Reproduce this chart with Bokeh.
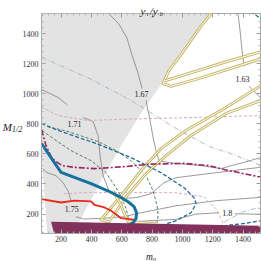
from bokeh.plotting import figure
from bokeh.models import Range1d, LinearAxis, SingleIntervalTicker, FixedTicker, Label
from bokeh.core.properties import value
from bokeh.embed import file_html
from bokeh.resources import INLINE

nan = float("nan")

X_RANGE = (71, 1515)
Y_RANGE = (71, 1533)
major_ticks = [200, 400, 600, 800, 1000, 1200, 1400]
minor_ticks = [t for t in range(80, 1520, 40) if t % 200 != 0]

# excluded (grey) region
grey_x = [71, 1200, 1044, 879, 727, 596, 464, 365, 312, 299, 108, 71]
grey_y = [1533, 1533, 1342, 1089, 869, 655, 422, 235, 135, 71, 71, 622]

# excluded band at the bottom
band_x = [134, 1515, 1515, 154]
band_y = [149, 122, 71, 71]

# thick blue curve
blue_x = [71, 200, 266, 398, 508, 582, 642, 681, 698, 694, 675, 642]
blue_y = [669, 477, 452, 402, 355, 318, 282, 249, 209, 169, 142, 125]

# red curve
red_x = [71, 200, 288, 398, 420, 486, 530, 596, 650, 694]
red_y = [300, 277, 289, 284, 262, 244, 222, 173, 167, 162]

# blue dashed curves
bdash1_x = [71, 200, 431, 662, 859, 1011, 1077, 1090, 1057, 958, 840, 780]
bdash1_y = [802, 749, 669, 575, 475, 375, 309, 269, 209, 156, 116, 89]
bdash2_x = [1230, 1294, 1420, 1515]
bdash2_y = [110, 125, 139, 156]
bdash3_x = [1450, 1530]
bdash3_y = [1545, 1490]

# magenta dash-dot curve
mdd_x = [71, 101, 141, 207, 286, 418, 615, 793, 1011, 1176, 1288, 1515]
mdd_y = [761, 655, 568, 522, 511, 502, 515, 532, 537, 522, 493, 446]

# light pink dashed curves
pink1_x = [71, 180, 378, 662, 1090, 1515]
pink1_y = [911, 855, 822, 832, 842, 855]
pink2_x = [220, 385, 662, 958, 1044, 1143, 1222, 1268]
pink2_y = [335, 344, 344, 342, 329, 315, 235, 142]

# green dashed curves
greenA_x = [108, 246, 444, 563, 662, 760, 807, 833, 840, 826]
greenA_y = [782, 749, 682, 622, 555, 455, 355, 255, 189, 100]
greenB_x = [75, 167, 266, 398, 497, 576, 622, 642, 635]
greenB_y = [755, 689, 622, 555, 475, 355, 255, 189, 100]

# light blue-grey dash-dot curves
bgdd1_x = [71, 398, 662, 958, 1176, 1321, 1515]
bgdd1_y = [1242, 1096, 955, 769, 649, 602, 525]
bgdd2_x = [1222, 1288, 1400, 1515]
bgdd2_y = [102, 155, 215, 246]

# y_tau / y_b contours (grey)
c163_x = [1365, 1380, 1393, 1407, nan, 1440, 1473, 1515]
c163_y = [1545, 1422, 1289, 1182, nan, 1049, 1015, 972]
c167_x = [503, 582, 635, 668, 708, 734, nan, 760, 787, 807, 826, 846, 912, 1011, 1123, 1255, 1321, 1400, 1515]
c167_y = [1545, 1462, 1369, 1255, 1135, 1035, nan, 955, 822, 708, 622, 555, 542, 532, 522, 502, 522, 542, 575]
c171_x = [71, 180, 240, nan, 345, 411, 444, 457, 477, 516, 582, 694, 793, 879, 958, 1222, 1515]
c171_y = [1028, 975, 928, nan, 842, 815, 722, 589, 455, 355, 302, 309, 335, 409, 442, 475, 511]
c175_x = [78, 108, 167, 213, 246, 266, nan, 299, 352, 464, 615, 727, 958, 1222, 1515]
c175_y = [502, 475, 455, 409, 355, 289, nan, 182, 167, 172, 182, 209, 255, 289, 311]
c18_x = [662, 958, 1090, 1242, nan, 1347, 1515]
c18_y = [149, 165, 200, 209, nan, 202, 199]

contour_label_text = ["1.63", "1.67", "1.71", "1.75", "1.8"]
contour_label_x = [1397, 731, 289, 271, 1295]
contour_label_y = [1099, 999, 799, 233, 208]

# khaki double-line curves
ktop_x = [1200, 1123, 1057, 978, 912, 873, 925, 1123, 1321, 1519]
ktop_y = [1545, 1449, 1355, 1242, 1155, 1068, 1049, 1105, 1169, 1232]
kup_x = [886, 1057, 1288, 1519]
kup_y = [1086, 1139, 1212, 1279]
k1_x = [1519, 1255, 1024, 859, 727, 596, 464, 516, 629, 760, 892, 1057, 1288, 1519]
k1_y = [1055, 889, 755, 635, 489, 322, 162, 149, 315, 469, 589, 722, 869, 955]
k2_x = [543, 596, 642, 727, 840]
k2_y = [355, 255, 150, 142, 137]

SERIF = "Liberation Serif"
FRAME = "#a8a8a8"

p = figure(width=261, height=261, x_range=Range1d(*X_RANGE), y_range=Range1d(*Y_RANGE),
           output_backend="svg", toolbar_location=None,
           min_border_left=40, min_border_right=1, min_border_top=13, min_border_bottom=28)
p.xgrid.visible = False
p.ygrid.visible = False
p.outline_line_color = FRAME
p.background_fill_color = "white"
p.border_fill_color = "white"

for ax in p.axis:
    ax.ticker = SingleIntervalTicker(interval=200, num_minor_ticks=5)
    ax.major_tick_in = 4
    ax.major_tick_out = 0
    ax.minor_tick_in = 2
    ax.minor_tick_out = 0
    ax.axis_line_color = FRAME
    ax.major_tick_line_color = "#9a9a9a"
    ax.minor_tick_line_color = "#b5b5b5"
    ax.major_label_text_font = SERIF
    ax.major_label_text_color = "#333333"
    ax.major_label_text_font_size = "8px"
    ax.major_label_standoff = 3
p.xaxis[0].major_label_standoff = 2

# mirrored tick marks on the top and right edges (label-free axes)
for place in ("above", "right"):
    for ticks, length, color in ((major_ticks, 4, "#9a9a9a"), (minor_ticks, 2, "#b5b5b5")):
        p.add_layout(LinearAxis(ticker=FixedTicker(ticks=[], minor_ticks=ticks),
                                minor_tick_in=length, minor_tick_out=0,
                                major_tick_in=0, major_tick_out=0,
                                minor_tick_line_color=color, axis_line_color=None,
                                major_label_standoff=0), place)

# regions
p.patch(grey_x, grey_y, fill_color="#e3e3e3", line_color=None)

# thin lines
for xs, ys in [(c163_x, c163_y), (c167_x, c167_y), (c171_x, c171_y), (c175_x, c175_y), (c18_x, c18_y)]:
    p.line(xs, ys, line_color="#808080", line_width=0.8)

p.line(bgdd1_x, bgdd1_y, line_color="#9fb4c2", line_width=0.9, line_dash="5 2 1 2")
p.line(bgdd2_x, bgdd2_y, line_color="#9fb4c2", line_width=0.9, line_dash="5 2 1 2")
p.line(pink1_x, pink1_y, line_color="#d6a3b8", line_width=0.9, line_dash="3 2")
p.line(pink2_x, pink2_y, line_color="#d6a3b8", line_width=0.9, line_dash="3 2")
p.line(greenA_x, greenA_y, line_color="#4f7d64", line_width=1.0, line_dash="3 2")
p.line(greenB_x, greenB_y, line_color="#4f7d64", line_width=1.0, line_dash="3 2")

# khaki double lines
for xs, ys in [(ktop_x, ktop_y), (kup_x, kup_y), (k1_x, k1_y), (k2_x, k2_y)]:
    p.line(xs, ys, line_color="#c9b96c", line_width=3.0, line_join="round")
    p.line(xs, ys, line_color="white", line_width=1.0, line_join="round")

p.line(bdash1_x, bdash1_y, line_color="#1f6c97", line_width=1.3, line_dash="4 2")
p.line(bdash2_x, bdash2_y, line_color="#1f6c97", line_width=1.3, line_dash="4 2")
p.line(bdash3_x, bdash3_y, line_color="#1f6c97", line_width=1.3, line_dash="4 2")
p.line(mdd_x, mdd_y, line_color="#9b2262", line_width=1.6, line_dash="6 2 2 2")
p.line(red_x, red_y, line_color="#e8291c", line_width=1.8)
p.line(blue_x, blue_y, line_color="#16719f", line_width=3.0, line_join="round")

p.patch(band_x, band_y, fill_color="#82305c", line_color=None)

p.text(x=contour_label_x, y=contour_label_y, text=contour_label_text,
       text_font=value(SERIF), text_font_size=value("8px"), text_color="#222222",
       text_align="center", text_baseline="middle")

def lab(x, y, t, size, place):
    p.add_layout(Label(x=x, y=y, text=t, text_font=SERIF, text_font_size=size,
                       text_font_style="italic", text_color="#222222",
                       text_align="left", text_baseline="alphabetic"), place)

# texts outside the frame live in side panels (annotations in the centre are
# clipped to the frame); each panel only holds what fits in its border
lab(-185, 782, "M", "11px", "left")
lab(-123, 765, "1/2", "8px", "left")
lab(760, -82, "m₀", "9.5px", "below")
# plot title  y_tau / y_b : main letters above, subscripts in the lower panel
lab(723, 1550, "y\u2009\u2009/y", "11px", "above")
lab(761, 1536, "τ\u2003\u2002 b", "6.5px", "below")

open("out.html", "w").write(file_html(p, INLINE))
